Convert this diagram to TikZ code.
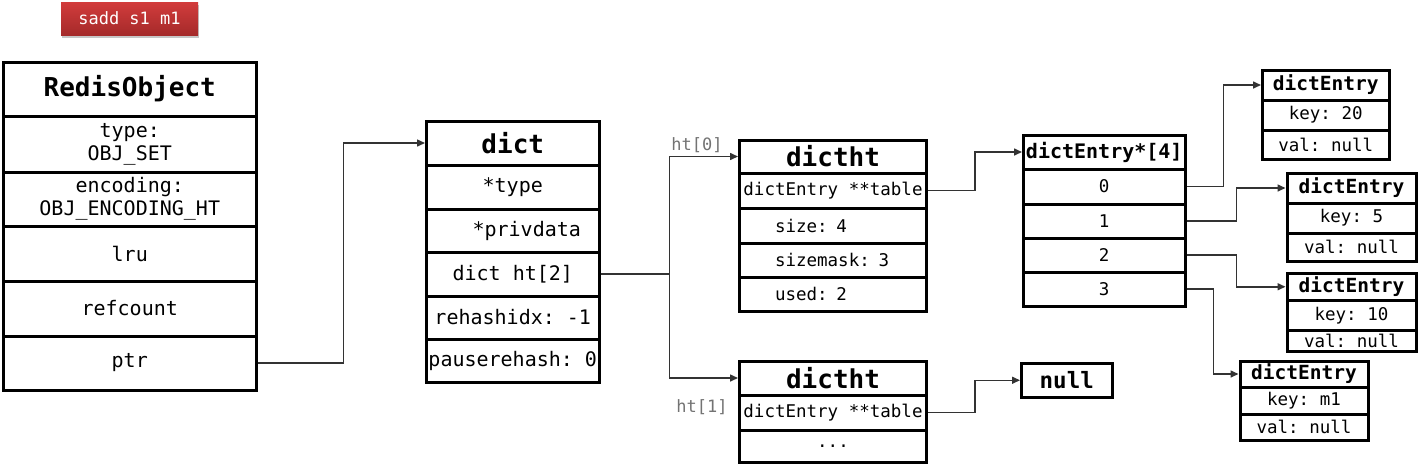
\documentclass[tikz,border=0pt]{standalone}
\usepackage{fontspec}
\setmonofont{DejaVu Sans Mono}
\usetikzlibrary{arrows.meta,shadows}
\definecolor{cmdtop}{HTML}{D23C3C}
\definecolor{cmdbot}{HTML}{A52A2A}

\begin{document}
\begin{tikzpicture}[x=1pt,y=-1pt]
\tikzset{
  recbox/.style={draw=black,line width=3pt,inner sep=0pt,font=\ttfamily\fontsize{20}{23}\selectfont},
  rectitle/.style={recbox,font=\ttfamily\bfseries\fontsize{26}{30}\selectfont},
  smalltext/.style={font=\ttfamily\fontsize{17.5}{20}\selectfont},
  smalltitle/.style={font=\ttfamily\bfseries\fontsize{19.5}{22}\selectfont},
  robj/.style={recbox,minimum width=252.5pt},
  rdict/.style={recbox,minimum width=172.5pt},
  rht/.style={recbox,smalltext,minimum width=187pt},
  rhtleft/.style={rht,text width=116pt,align=left},
  rarr/.style={recbox,smalltext,minimum width=161.5pt},
  rent/.style={recbox,smalltext},
  reclink/.style={draw=black!80,line width=1.5pt,-{Triangle[length=8pt,width=7pt]}},
  htlabel/.style={text=black!55,font=\ttfamily\fontsize{17}{20}\selectfont,inner sep=0pt},
  cmdbox/.style={top color=cmdtop,bottom color=cmdbot,draw=none,
    minimum width=137pt,minimum height=33pt,text=white,font=\ttfamily\fontsize{17}{20}\selectfont,
    drop shadow={shadow xshift=1pt,shadow yshift=-3pt,opacity=0.45}}
}
\useasboundingbox (0,0) rectangle (1418,464);
% command
\node[cmdbox] (n_cmd) at (129.5,18.5) {sadd s1 m1};
% redisObject
\node[robj,rectitle,minimum height=54pt] (n_ro_title) at (129.75,89) {RedisObject};
\node[robj,minimum height=56pt,align=center] (n_ro_type) at (129.75,144) {type:\\OBJ\_SET};
\node[robj,minimum height=54pt,align=center] (n_ro_enc) at (129.75,199) {encoding:\\OBJ\_ENCODING\_HT};
\node[robj,minimum height=55pt] (n_ro_lru) at (129.75,253.5) {lru};
\node[robj,minimum height=55pt] (n_ro_ref) at (129.75,308.5) {refcount};
\node[robj,minimum height=54pt] (n_ro_ptr) at (129.75,363) {ptr};
% dict
\node[rdict,rectitle,minimum height=44pt] (n_d_title) at (512.75,143) {dict};
\node[rdict,minimum height=44pt] (n_d_type) at (512.75,187) {*type};
\node[rdict,minimum height=43pt] (n_d_priv) at (512.75,230.5) {\hspace*{28pt}*privdata};
\node[rdict,minimum height=44pt] (n_d_ht) at (512.75,274) {dict ht[2]};
\node[rdict,minimum height=43pt] (n_d_rehash) at (512.75,317.5) {rehashidx: -1};
\node[rdict,minimum height=43pt] (n_d_pause) at (512.75,360.5) {pauserehash: 0};
% dictht 0
\node[rht,rectitle,minimum height=33pt] (n_h0_title) at (833,156.5) {dictht};
\node[rht,minimum height=35pt] (n_h0_table) at (833,190.5) {dictEntry **table};
\node[rhtleft,minimum height=35pt] (n_h0_size) at (833,225.5) {size: 4};
\node[rhtleft,minimum height=34pt] (n_h0_mask) at (833,260) {sizemask: 3};
\node[rhtleft,minimum height=34pt] (n_h0_used) at (833,294) {used: 2};
% dictht 1
\node[rht,rectitle,minimum height=34pt] (n_h1_title) at (833,378) {dictht};
\node[rht,minimum height=35pt] (n_h1_table) at (833,412.5) {dictEntry **table};
\node[rht,minimum height=32pt] (n_h1_dots) at (833,446) {...};
\node[htlabel] (n_lbl0) at (697,145) {ht[0]};
\node[htlabel] (n_lbl1) at (702,407) {ht[1]};
% table array
\node[rarr,font=\ttfamily\bfseries\fontsize{20}{23}\selectfont,minimum height=34pt] (n_a_title) at (1104.25,152) {dictEntry*[4]};
\node[rarr,minimum height=35pt] (n_a_0) at (1104.25,186.5) {0};
\node[rarr,minimum height=34pt] (n_a_1) at (1104.25,221) {1};
\node[rarr,minimum height=34pt] (n_a_2) at (1104.25,255) {2};
\node[rarr,minimum height=34pt] (n_a_3) at (1104.25,289) {3};
\node[recbox,font=\ttfamily\bfseries\fontsize{22.5}{26}\selectfont,minimum width=90.5pt,minimum height=33.5pt] (n_null) at (1066.75,380.25) {null};
% entries
\node[rent,smalltitle,minimum width=126.5pt,minimum height=30pt] (n_e0_title) at (1325.75,85) {dictEntry};
\node[rent,minimum width=126.5pt,minimum height=30pt] (n_e0_key) at (1325.75,115) {key: 20};
\node[rent,minimum width=126.5pt,minimum height=29pt] (n_e0_val) at (1325.75,144.5) {val: null};
\node[rent,smalltitle,minimum width=129pt,minimum height=30pt] (n_e1_title) at (1351.5,188) {dictEntry};
\node[rent,minimum width=129pt,minimum height=30pt] (n_e1_key) at (1351.5,218) {key: 5};
\node[rent,minimum width=129pt,minimum height=28pt] (n_e1_val) at (1351.5,247) {val: null};
\node[rent,smalltitle,minimum width=129pt,minimum height=27.5pt] (n_e2_title) at (1351.5,286.75) {dictEntry};
\node[rent,minimum width=129pt,minimum height=29.5pt] (n_e2_key) at (1351.5,315.25) {key: 10};
\node[rent,minimum width=129pt,minimum height=21pt] (n_e2_val) at (1351.5,340.5) {val: null};
\node[rent,smalltitle,minimum width=128pt,minimum height=26pt] (n_e3_title) at (1304,374) {dictEntry};
\node[rent,minimum width=128pt,minimum height=27pt] (n_e3_key) at (1304,400.5) {key: m1};
\node[rent,minimum width=128pt,minimum height=26pt] (n_e3_val) at (1304,427) {val: null};
% pointers
\draw[reclink] (n_ro_ptr.east) -- ++(86,0) |- (n_d_title.west);
\draw[reclink,-] (n_d_ht.east) -- ++(69,0) coordinate (c_split);
\draw[reclink] (c_split) |- (n_h0_title.west);
\draw[reclink] (c_split) |- (n_h1_title.west);
\draw[reclink] (n_h0_table.east) -- ++(47,0) |- (n_a_title.west);
\draw[reclink] (n_h1_table.east) -- ++(47,0) |- (n_null.west);
\draw[reclink] (n_a_0.east) -- ++(37,0) |- (n_e0_title.west);
\draw[reclink] (n_a_1.east) -- ++(50,0) |- (n_e1_title.west);
\draw[reclink] (n_a_2.east) -- ++(50,0) |- (n_e2_title.west);
\draw[reclink] (n_a_3.east) -- ++(27,0) |- (n_e3_title.west);
\end{tikzpicture}
\end{document}
